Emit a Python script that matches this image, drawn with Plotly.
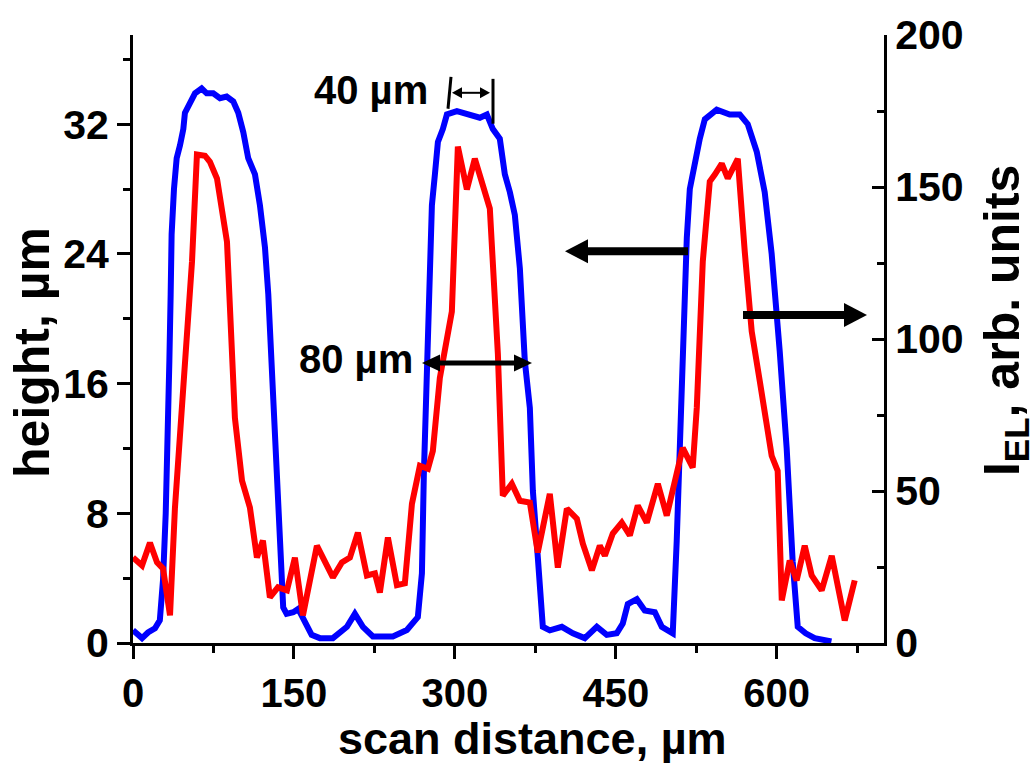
import plotly.graph_objects as go

# ---- data ----
height_x = [0, 8.4, 14, 20.5, 25, 28, 30.5, 32.6, 33.9, 35.1, 36.0, 38.2, 40.7, 43.8, 46.9, 48.4,
            53.1, 57.8, 64, 68.7, 74.8, 81.1, 87.3, 93.5, 98.1, 102.8, 107.4, 113.7, 118.3, 123,
            126.1, 129.2, 132.4, 137, 140, 143.2, 149.4, 154, 160.3, 166.5, 174.2, 186.3, 199.4,
            206.8, 214.3, 223.6, 242.2, 255.3, 265.5, 269.3, 271.1, 273.9, 276.7, 278.6, 281.4,
            284.2, 288.8, 292.6, 301.9, 311.2, 323.3, 329.8, 335.4, 341.9, 346.6, 351.3, 355.9,
            360.6, 365.2, 369.9, 372.7, 377.3, 382, 388.5, 399.7, 410, 421.1, 432.3, 441.6, 450.9,
            456.5, 461.2, 469.6, 477, 486.4, 492.9, 503.1, 506.8, 509.6, 512.4, 516.2, 519, 523.6,
            528.3, 533, 544.1, 556.2, 565.5, 573, 581.4, 588.8, 595.3, 602.8, 609.3, 614.9, 619.6,
            627, 635.4, 651]
height_um = [0.78, 0.3, 0.65, 0.9, 1.4, 3.9, 8, 12.5, 17.4, 21.5, 25.2, 28.0, 29.9, 30.7, 31.7, 32.7,
             33.4, 33.9, 34.2, 33.9, 33.9, 33.6, 33.7, 33.4, 32.7, 31.5, 29.9, 28.9, 27.0, 24.4,
             21.5, 17.4, 12.5, 6.3, 2.2, 1.8, 1.9, 2.1, 1.2, 0.5, 0.3, 0.3, 1.0,
             1.8, 1.0, 0.4, 0.4, 0.8, 1.6, 4.3, 10.4, 16.6, 23.5, 27.0, 28.9,
             30.9, 31.7, 32.6, 32.8, 32.6, 32.4, 32.6, 31.7, 31.1, 28.9, 27.8, 26.4,
             23.1, 17.4, 14.5, 9.4, 5.3, 1.0, 0.78, 1.0, 0.6, 0.3, 1.0, 0.5, 0.6,
             1.2, 2.4, 2.7, 2.0, 1.9, 1.0, 0.6, 6.3, 12.5, 18.6, 25, 28, 29.7,
             31.1, 32.3, 32.9, 32.6, 32.6, 32.0, 30.3, 27.8, 24, 18, 12, 5, 1.0,
             0.6, 0.3, 0.1]

iel_x = [0, 8.4, 15.8, 22.4, 28, 34.5, 39.1, 45.7, 50.3, 55, 59.6, 67.1, 71.7, 78.3, 87.6, 92.2, 95,
         101.6, 109, 115.5, 121.1, 127.6, 135.1, 143.5, 150.9, 158.4, 171.4, 186.3, 194.7, 202.2,
         209.6, 218, 225.5, 230.1, 237.6, 246, 253.4, 260, 267.4, 274.9, 279.5, 286, 288.8, 297.2,
         302.8, 311.2, 318.6, 332.6, 340.1, 344.7, 353.1, 360.6, 369.9, 377.3, 388.5, 396, 404.4,
         413.7, 419.3, 427.7, 435.1, 439.8, 447.2, 455.6, 463.1, 470.5, 478.9, 489.2, 497.5, 505,
         512.4, 521.7, 525.5, 531.1, 537.6, 542.3, 548.8, 554.4, 563.7, 570.2, 576.7, 584.2, 589.8,
         595.3, 600.9, 604.7, 612.1, 618.6, 626.1, 632.6, 641.9, 651.3, 663.4, 672.7]
iel_au = [28.1, 25.5, 33, 26.5, 24.5, 9.1, 44.5, 77.4, 99.3, 125.5, 160.7, 160.3, 158.3, 152.8, 132,
          92.7, 74, 53.4, 44.5, 28.1, 33.7, 15, 18.3, 17.3, 28.1, 9.1, 32, 21.6, 26.5, 28.1,
          36.3, 22.2, 22.9, 16.6, 34.7, 19, 19.6, 45.8, 58.3, 57.3, 63.2, 87.2, 92.7, 109,
          163.3, 149.2, 159.3, 142.9, 95, 48.5, 52.4, 46.8, 46.2, 29.8, 49.1, 24.8, 44.2,
          40.9, 32.7, 23.9, 32, 28.7, 36, 39.6, 35.4, 45.2, 39.6, 52.4, 41.9, 52.4,
          64.2, 57.7, 77.4, 125.5, 151.8, 154.1, 157.7, 152.8, 159.3, 128.8, 102.5, 86.2, 73,
          61.6, 56.6, 14, 27.1, 20.6, 32, 22.2, 17.3, 28.7, 7.4, 20.6]

x_ticks = [0, 150, 300, 450, 600]
y_left_ticks = [0, 8, 16, 24, 32]
y_right_ticks = [0, 50, 100, 150, 200]

FONT = "Liberation Sans, Arial, sans-serif"
W, H = 1036, 766
L, R, T, B = 133, 152, 33, 123
PW, PH = W - L - R, H - T - B


def px(xp, yp):
    return (xp - L) / PW, (H - B - yp) / PH


fig = go.Figure()
fig.add_trace(go.Scatter(x=height_x, y=height_um, mode="lines",
                         line=dict(color="#0000ff", width=6), yaxis="y"))
fig.add_trace(go.Scatter(x=iel_x, y=iel_au, mode="lines",
                         line=dict(color="#ff0000", width=6), yaxis="y2"))

tickfont = dict(family=FONT, size=41, color="black", weight="bold")
xtickfont = dict(family=FONT, size=40, color="black", weight="bold")
axis_common = dict(showgrid=False, zeroline=False, showline=True, linecolor="black",
                   linewidth=3, tickwidth=3, tickcolor="black")

fig.update_layout(
    width=W, height=H,
    margin=dict(l=L, r=R, t=T, b=B),
    paper_bgcolor="white", plot_bgcolor="white",
    showlegend=False,
    xaxis=dict(range=[0, 700], tickvals=x_ticks, ticks="outside", ticklen=13,
               tickfont=xtickfont,
               minor=dict(dtick=75, tick0=0, ticks="outside", ticklen=7, tickwidth=3,
                          tickcolor="black"),
               **axis_common),
    yaxis=dict(range=[0, 37.5], tickvals=y_left_ticks, ticks="outside", ticklen=13,
               tickfont=tickfont,
               minor=dict(dtick=4, tick0=0, ticks="outside", ticklen=7, tickwidth=3,
                          tickcolor="black"),
               **axis_common),
    yaxis2=dict(range=[0, 200], tickvals=y_right_ticks, ticks="inside", ticklen=12,
                tickfont=tickfont, overlaying="y", side="right",
                minor=dict(dtick=25, tick0=0, ticks="inside", ticklen=7, tickwidth=3,
                           tickcolor="black"),
                **axis_common),
)

titlefont = dict(family=FONT, size=50, color="black", weight="bold")
xtitlefont = dict(family=FONT, size=45, color="black", weight="bold")
annfont = dict(family=FONT, size=40, color="black", weight="bold")
anns = []
x0, y0 = px(532, 739)
anns.append(dict(x=x0, y=y0, xref="paper", yref="paper", text="scan distance, µm",
                 showarrow=False, font=xtitlefont, xanchor="center", yanchor="middle"))
x0, y0 = px(32, 352)
anns.append(dict(x=x0, y=y0, xref="paper", yref="paper", text="height, µm", textangle=-90,
                 showarrow=False, font=titlefont, xanchor="center", yanchor="middle"))
x0, y0 = px(1005, 320)
anns.append(dict(x=x0, y=y0, xref="paper", yref="paper", text="I<sub>EL</sub>, arb. units",
                 textangle=-90, showarrow=False, font=titlefont, xanchor="center",
                 yanchor="middle"))
x0, y0 = px(371, 88)
anns.append(dict(x=x0, y=y0, xref="paper", yref="paper", text="40 µm", showarrow=False,
                 font=annfont, xanchor="center", yanchor="middle"))
x0, y0 = px(356, 358)
anns.append(dict(x=x0, y=y0, xref="paper", yref="paper", text="80 µm", showarrow=False,
                 font=annfont, xanchor="center", yanchor="middle"))
fig.update_layout(annotations=anns)

shapes = []


def seg(xa, ya, xb, yb, w):
    p0, p1 = px(xa, ya), px(xb, yb)
    shapes.append(dict(type="line", xref="paper", yref="paper", x0=p0[0], y0=p0[1],
                       x1=p1[0], y1=p1[1], line=dict(color="black", width=w)))


def head(xt, y, direction, hl, hw):
    # direction: -1 points left, +1 points right
    pts = [px(xt, y), px(xt - direction * hl, y - hw), px(xt - direction * hl, y + hw)]
    path = "M {:.5f},{:.5f} L {:.5f},{:.5f} L {:.5f},{:.5f} Z".format(
        pts[0][0], pts[0][1], pts[1][0], pts[1][1], pts[2][0], pts[2][1])
    shapes.append(dict(type="path", xref="paper", yref="paper", path=path,
                       fillcolor="black", line=dict(color="black", width=0)))


# big left-pointing arrow (height axis)
seg(688, 250, 580, 250, 8)
head(565, 250, -1, 23, 12)
# big right-pointing arrow (EL axis)
seg(743, 314, 852, 314, 8)
head(867, 314, 1, 23, 12)
# 80 µm double arrow
seg(434, 362, 520, 362, 5)
head(422, 362, -1, 18, 8.5)
head(532, 362, 1, 18, 8.5)
# 40 µm double arrow and bars
seg(458, 91, 484, 91, 2)
head(452, 91, -1, 10, 5.5)
head(490, 91, 1, 10, 5.5)
seg(451, 75, 448, 107, 3)
seg(493, 77, 493, 122, 3)

fig.update_layout(shapes=shapes)

fig.write_html("out.html")
